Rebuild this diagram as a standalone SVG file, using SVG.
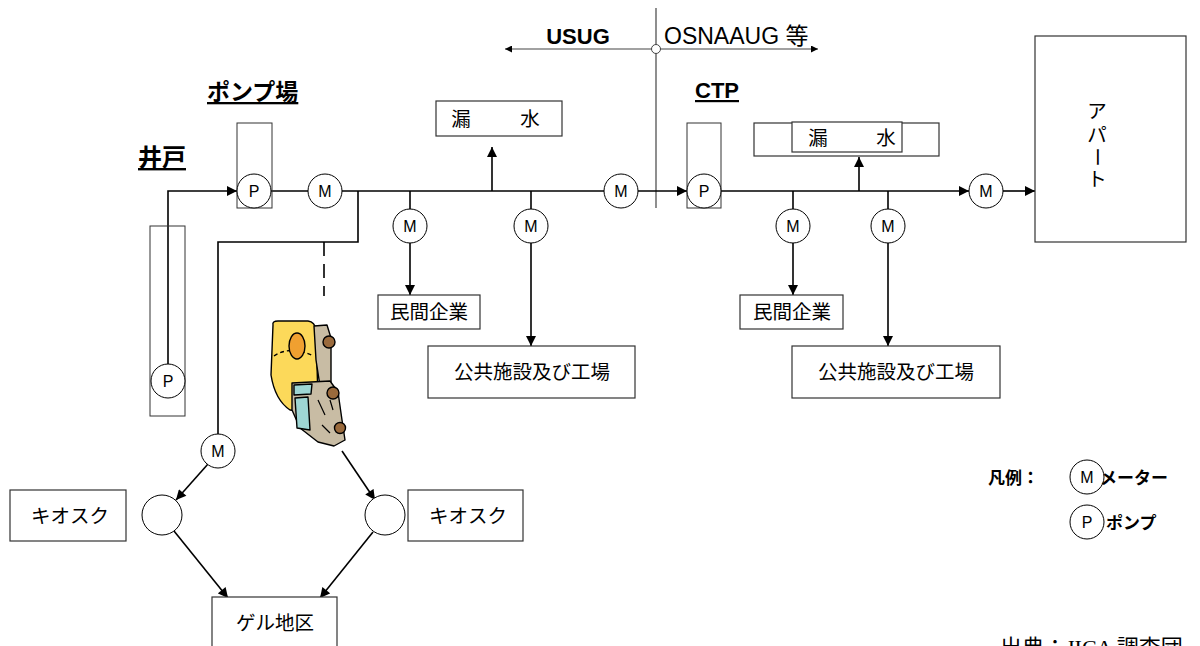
<svg xmlns="http://www.w3.org/2000/svg" width="1200" height="646" viewBox="0 0 1200 646">
  <defs>
    <marker id="arr" viewBox="0 0 10 10" refX="10" refY="5" markerWidth="11" markerHeight="10" markerUnits="userSpaceOnUse" orient="auto">
      <path d="M0,0 L10,5 L0,10 Z" fill="#000"/>
    </marker>
    <marker id="arrS" viewBox="0 0 10 10" refX="10" refY="5" markerWidth="9" markerHeight="7" markerUnits="userSpaceOnUse" orient="auto">
      <path d="M0,0 L10,5 L0,10 Z" fill="#000"/>
    </marker>
    <style>
      .box { fill: #fff; stroke: #333; stroke-width: 1.2; }
      .frame { fill: none; stroke: #333; stroke-width: 1; }
      .ln { fill: none; stroke: #000; stroke-width: 1.6; }
      .thin { fill: none; stroke: #444; stroke-width: 1.2; }
      .circ { fill: #fff; stroke: #000; stroke-width: 1; }
      .sym { font-family: "Liberation Sans", Arial, sans-serif; font-size: 16px; text-anchor: middle; fill: #000; }
      .jp { font-family: "Liberation Sans", "Noto Sans CJK JP", sans-serif; font-size: 19.5px; fill: #000; text-anchor: middle; }
      .head { font-family: "Liberation Sans", "Noto Sans CJK JP", sans-serif; font-weight: bold; fill: #000; text-decoration: underline; }
      .leg { font-family: "Liberation Sans", "Noto Sans CJK JP", sans-serif; font-weight: bold; font-size: 17px; fill: #000; }
    </style>
  </defs>

  <!-- connectors -->
  <g id="connectors">
    <!-- boundary between USUG and OSNAAUG -->
    <line class="thin" x1="656" y1="8" x2="656" y2="208"/>
    <line class="thin" x1="652" y1="49" x2="505" y2="49" marker-end="url(#arrS)"/>
    <line class="thin" x1="660" y1="49" x2="818" y2="49" marker-end="url(#arrS)"/>
    <!-- well to pump station -->
    <polyline class="ln" points="168,364 168,191 237,191" marker-end="url(#arr)"/>
    <!-- main line, USUG side -->
    <line class="ln" x1="271" y1="191" x2="308" y2="191"/>
    <line class="ln" x1="342" y1="191" x2="604" y2="191"/>
    <!-- branch to ger area -->
    <polyline class="ln" points="358,191 358,242 218,242 218,434"/>
    <line class="ln" x1="324" y1="242" x2="324" y2="296" stroke-dasharray="14,8"/>
    <!-- leakage USUG -->
    <line class="ln" x1="492" y1="191" x2="492" y2="147" marker-end="url(#arr)"/>
    <!-- customers USUG -->
    <line class="ln" x1="410" y1="191" x2="410" y2="209"/>
    <line class="ln" x1="410" y1="243" x2="410" y2="295" marker-end="url(#arr)"/>
    <line class="ln" x1="531" y1="191" x2="531" y2="209"/>
    <line class="ln" x1="531" y1="243" x2="531" y2="346" marker-end="url(#arr)"/>
    <!-- to CTP -->
    <line class="ln" x1="638" y1="191" x2="687" y2="191" marker-end="url(#arr)"/>
    <!-- main line, OSNAAUG side -->
    <line class="ln" x1="721" y1="191" x2="969" y2="191" marker-end="url(#arr)"/>
    <line class="ln" x1="1003" y1="191" x2="1035" y2="191" marker-end="url(#arr)"/>
    <line class="ln" x1="859" y1="191" x2="859" y2="157" marker-end="url(#arr)"/>
    <line class="ln" x1="793" y1="191" x2="793" y2="209"/>
    <line class="ln" x1="793" y1="243" x2="793" y2="295" marker-end="url(#arr)"/>
    <line class="ln" x1="888" y1="191" x2="888" y2="209"/>
    <line class="ln" x1="888" y1="243" x2="888" y2="346" marker-end="url(#arr)"/>
    <!-- kiosk distribution -->
    <line class="ln" x1="208" y1="464" x2="176" y2="500" marker-end="url(#arr)"/>
    <line class="ln" x1="342" y1="451" x2="375" y2="500" marker-end="url(#arr)"/>
    <line class="ln" x1="174" y1="531" x2="228" y2="598" marker-end="url(#arr)"/>
    <line class="ln" x1="373" y1="532" x2="320" y2="598" marker-end="url(#arr)"/>
  </g>

  <!-- boundary labels -->
  <g id="boundary">
    <circle cx="656" cy="49" r="4.5" fill="#fff" stroke="#444" stroke-width="1"/>
    <text x="578" y="44" font-family="Liberation Sans, sans-serif" font-weight="bold" font-size="22" text-anchor="middle">USUG</text>
    <text x="664" y="44" font-family="Liberation Sans, 'Noto Sans CJK JP', sans-serif" font-size="23">OSNAAUG 等</text>
  </g>

  <!-- well -->
  <g id="well">
    <text class="head" x="138" y="166" font-size="24">井戸</text>
    <rect class="frame" x="150" y="226" width="35" height="190"/>
    <circle class="circ" cx="168" cy="381" r="17"/>
    <text class="sym" x="168" y="387">P</text>
  </g>

  <!-- pump station -->
  <g id="pump-station">
    <text class="head" x="207" y="100" font-size="23">ポンプ場</text>
    <rect class="frame" x="237" y="123" width="35" height="85"/>
    <circle class="circ" cx="254" cy="191" r="17"/>
    <text class="sym" x="254" y="197">P</text>
  </g>

  <g id="meter-1">
    <circle class="circ" cx="325" cy="191" r="17"/>
    <text class="sym" x="325" y="197">M</text>
  </g>

  <g id="leak-usug">
    <rect class="box" x="436" y="101" width="126" height="35"/>
    <text class="jp" x="461" y="126" font-size="21">漏</text>
    <text class="jp" x="530" y="126" font-size="21">水</text>
  </g>

  <g id="meter-private-usug">
    <circle class="circ" cx="410" cy="226" r="17"/>
    <text class="sym" x="410" y="232">M</text>
  </g>
  <g id="private-usug">
    <rect class="box" x="378" y="295" width="102" height="34"/>
    <text class="jp" x="429" y="319" font-size="20">民間企業</text>
  </g>

  <g id="meter-public-usug">
    <circle class="circ" cx="531" cy="226" r="17"/>
    <text class="sym" x="531" y="232">M</text>
  </g>
  <g id="public-usug">
    <rect class="box" x="428" y="346" width="207" height="52"/>
    <text class="jp" x="532" y="379">公共施設及び工場</text>
  </g>

  <g id="meter-bulk">
    <circle class="circ" cx="621" cy="191" r="17"/>
    <text class="sym" x="621" y="197">M</text>
  </g>

  <!-- CTP -->
  <g id="ctp">
    <text class="head" x="695" y="98" font-size="22">CTP</text>
    <rect class="frame" x="687" y="123" width="34" height="85"/>
    <circle class="circ" cx="704" cy="191" r="17"/>
    <text class="sym" x="704" y="197">P</text>
  </g>

  <g id="leak-osnaaug">
    <rect class="box" x="754" y="123" width="185" height="33"/>
    <rect class="box" x="792" y="122" width="110" height="30"/>
    <text class="jp" x="818" y="145">漏</text>
    <text class="jp" x="886" y="145">水</text>
  </g>

  <g id="meter-private-osnaaug">
    <circle class="circ" cx="793" cy="226" r="17"/>
    <text class="sym" x="793" y="232">M</text>
  </g>
  <g id="private-osnaaug">
    <rect class="box" x="740" y="295" width="103" height="34"/>
    <text class="jp" x="792" y="319" font-size="20">民間企業</text>
  </g>

  <g id="meter-public-osnaaug">
    <circle class="circ" cx="888" cy="226" r="17"/>
    <text class="sym" x="888" y="232">M</text>
  </g>
  <g id="public-osnaaug">
    <rect class="box" x="792" y="346" width="208" height="52"/>
    <text class="jp" x="896" y="379">公共施設及び工場</text>
  </g>

  <g id="meter-apartment">
    <circle class="circ" cx="986" cy="191" r="17"/>
    <text class="sym" x="986" y="197">M</text>
  </g>

  <!-- apartment, label set vertically -->
  <g id="apartment">
    <rect class="box" x="1035" y="36" width="151" height="206"/>
    <text class="jp" x="1097" y="118" font-size="22">ア</text>
    <text class="jp" x="1097" y="142" font-size="22">パ</text>
    <text class="jp" x="1097" y="164" font-size="22" transform="rotate(90 1097 157)">ー</text>
    <text class="jp" x="1097" y="186" font-size="22">ト</text>
  </g>

  <!-- water truck -->
  <g id="water-truck" stroke="#000" stroke-width="1.4" stroke-linejoin="round">
    <!-- tank -->
    <path d="M273,325 Q272,321 278,321 L308,321 Q315,322 316,330 L318,400 L306,412 L290,410 Q275,400 271,375 Z" fill="#fcd95a"/>
    <path d="M274,356 Q290,345 314,356" fill="none" stroke-dasharray="4,3"/>
    <ellipse cx="297" cy="346" rx="8" ry="13" fill="#f0a030"/>
    <!-- frame arm -->
    <path d="M314,326 L327,325 L331,338 L331,384 L320,386 L316,360 Z" fill="#c8bca4"/>
    <!-- cab -->
    <path d="M292,383 L330,381 L338,392 L342,420 L345,440 L334,446 L318,442 L300,428 L292,410 Z" fill="#c8bca4"/>
    <path d="M294,385 L312,384 L311,394 L294,395 Z" fill="#9ed6d4"/>
    <path d="M295,398 L308,397 L310,430 L297,428 Z" fill="#9ed6d4"/>
    <path d="M318,400 L325,415 M322,425 L330,433 M330,400 L333,410" fill="none" stroke-width="1.2"/>
    <!-- wheels -->
    <circle cx="329" cy="342" r="6" fill="#9a6a3c"/>
    <circle cx="333" cy="393" r="6" fill="#9a6a3c"/>
    <circle cx="340" cy="428" r="5.5" fill="#9a6a3c"/>
  </g>

  <g id="meter-ger">
    <circle class="circ" cx="218" cy="451" r="17"/>
    <text class="sym" x="218" y="457">M</text>
  </g>

  <g id="kiosk-left">
    <rect class="box" x="10" y="490" width="116" height="51"/>
    <text class="jp" x="70" y="523" font-size="21">キオスク</text>
    <circle class="circ" cx="162" cy="515" r="20"/>
  </g>

  <g id="kiosk-right">
    <circle class="circ" cx="385" cy="515" r="20"/>
    <rect class="box" x="408" y="490" width="115" height="51"/>
    <text class="jp" x="468" y="523" font-size="21">キオスク</text>
  </g>

  <g id="ger-area">
    <rect class="box" x="212" y="597" width="125" height="60"/>
    <text class="jp" x="275" y="630">ゲル地区</text>
  </g>

  <!-- legend -->
  <g id="legend">
    <text class="leg" x="988" y="484">凡例：</text>
    <circle class="circ" cx="1087" cy="477" r="17"/>
    <text class="sym" x="1087" y="483">M</text>
    <text class="leg" x="1100" y="484">メーター</text>
    <circle class="circ" cx="1087" cy="522" r="17"/>
    <text class="sym" x="1087" y="528">P</text>
    <text class="leg" x="1106" y="529">ポンプ</text>
  </g>

  <text id="source" x="1000" y="655" font-family="Liberation Serif, 'Noto Sans CJK JP', serif" font-size="22">出典：JICA 調査団</text>
</svg>
